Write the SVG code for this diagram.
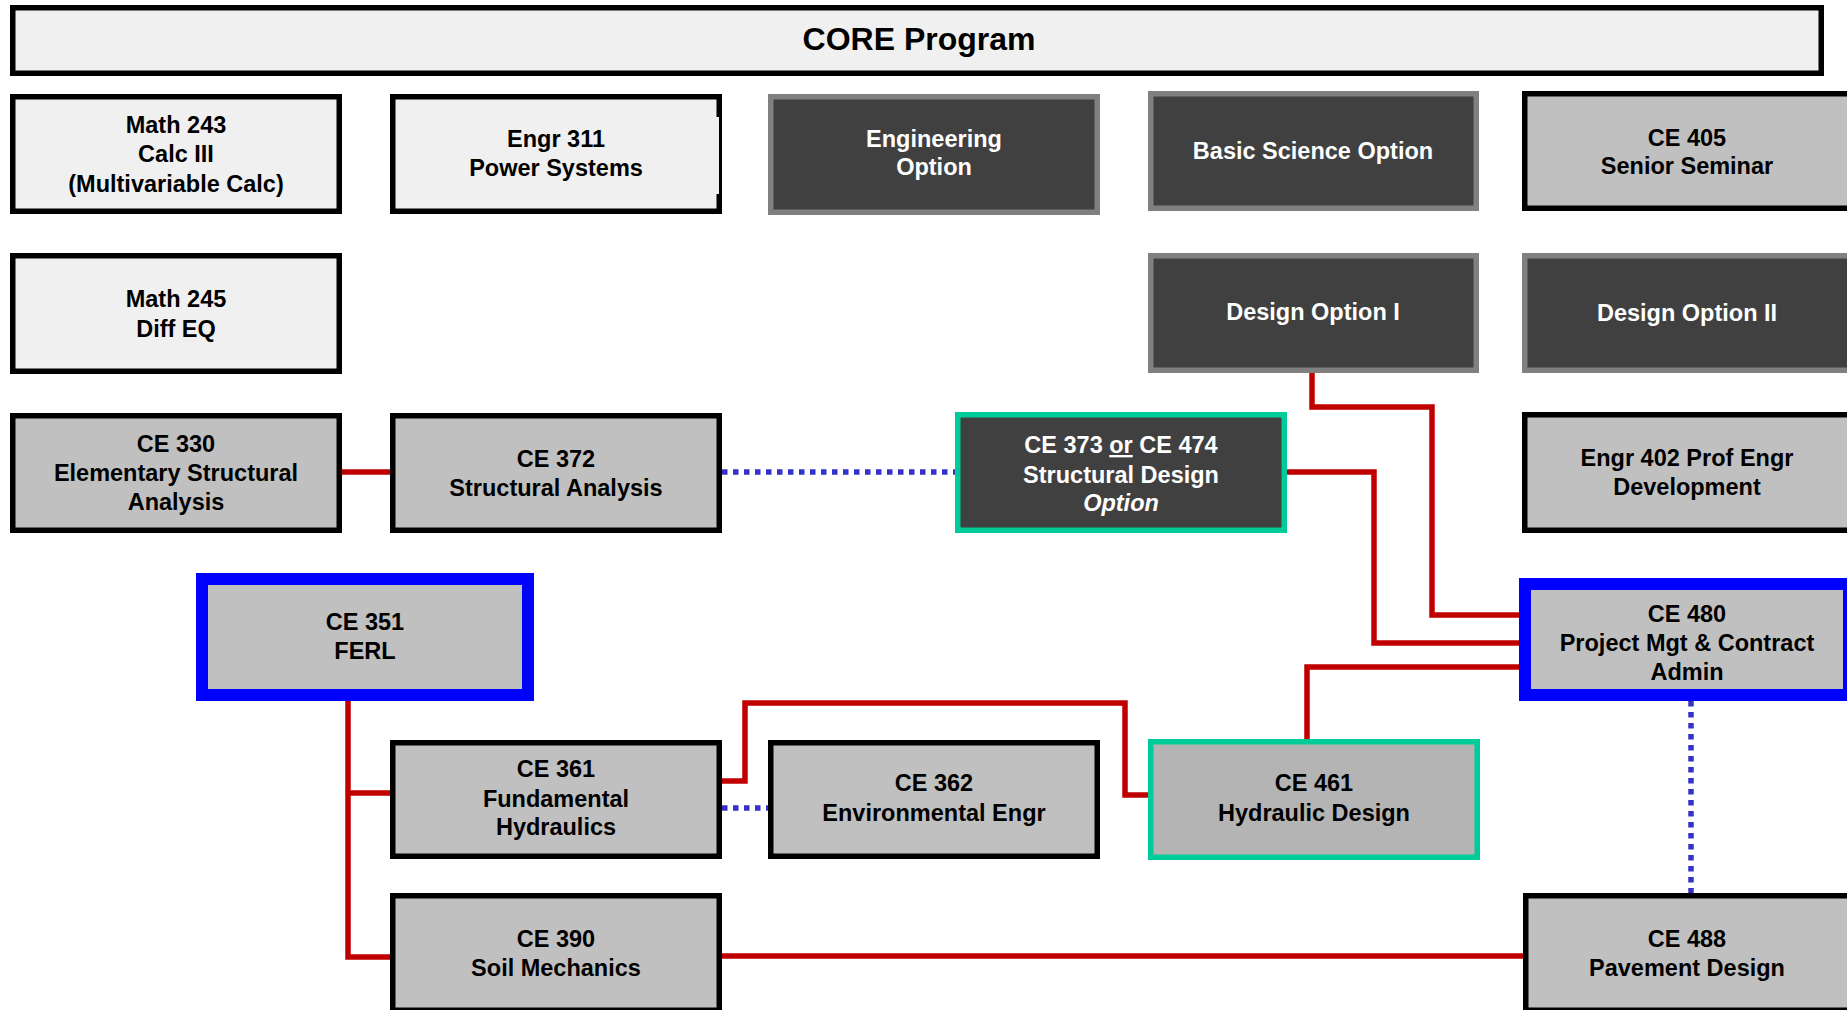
<svg xmlns="http://www.w3.org/2000/svg" width="1847" height="1010" viewBox="0 0 1847 1010">
<style>
text{font-family:"Liberation Sans",Arial,sans-serif;font-weight:bold;font-size:23.5px;text-anchor:middle}
.light{fill:#f0f0f0;stroke:#000;stroke-width:5.5}
.med{fill:#c0c0c0;stroke:#000;stroke-width:5.5}
.dark{fill:#404040;stroke:#808080;stroke-width:5.5}
.teal{stroke:#00cc99;stroke-width:5.5}
.blue{fill:#c0c0c0;stroke:#0000ff;stroke-width:12}
.wt{fill:#fff}
.bt{fill:#000}
.red{fill:none;stroke:#c00000;stroke-width:5.5}
.dot{fill:none;stroke:#3333cc;stroke-width:5.5;stroke-dasharray:5.5 5.5}
</style>
<rect width="1847" height="1010" fill="#fff"/>
<g id="connectors">
<path class="red" d="M342 472H390"/>
<path class="red" d="M1312 373V407H1432V615H1519"/>
<path class="red" d="M1287 472H1374V643H1519"/>
<path class="red" d="M1307 739V667H1519"/>
<path class="red" d="M348 701V957H390M348 793H390"/>
<path class="red" d="M722 781H745V703H1125V795H1148"/>
<path class="red" d="M722 956H1523"/>
<path class="dot" d="M722 472H955"/>
<path class="dot" d="M722 808H768"/>
<path class="dot" d="M1691 701V893"/>
</g>
<g id="core"><rect class="light" x="12.75" y="7.75" width="1808.5" height="65.5"/><text x="919" y="50" style="font-size:32px" class="bt">CORE Program</text></g>
<g id="math243"><rect class="light" x="12.75" y="96.75" width="326.5" height="114.5"/><text class="bt" x="176" y="133">Math 243</text><text class="bt" x="176" y="162">Calc III</text><text class="bt" x="176" y="192">(Multivariable Calc)</text></g>
<g id="engr311"><rect class="light" x="392.75" y="96.75" width="326.5" height="114.5"/><rect x="716" y="117" width="3" height="77" fill="#f0f0f0"/><text class="bt" x="556" y="147">Engr 311</text><text class="bt" x="556" y="176">Power Systems</text></g>
<g id="engopt"><rect class="dark" x="770.75" y="96.75" width="326.5" height="115.5"/><text class="wt" x="934" y="147">Engineering</text><text class="wt" x="934" y="175">Option</text></g>
<g id="basicsci"><rect class="dark" x="1150.75" y="93.75" width="325.5" height="114.5"/><text class="wt" x="1313" y="159">Basic Science Option</text></g>
<g id="ce405"><rect class="med" x="1524.75" y="93.75" width="325.5" height="114.5"/><text class="bt" x="1687" y="146">CE 405</text><text class="bt" x="1687" y="174">Senior Seminar</text></g>
<g id="math245"><rect class="light" x="12.75" y="255.75" width="326.5" height="115.5"/><text class="bt" x="176" y="307">Math 245</text><text class="bt" x="176" y="337">Diff EQ</text></g>
<g id="designopt1"><rect class="dark" x="1150.75" y="255.75" width="325.5" height="114.5"/><text class="wt" x="1313" y="320">Design Option I</text></g>
<g id="designopt2"><rect class="dark" x="1524.75" y="255.75" width="325.5" height="114.5"/><text class="wt" x="1687" y="321">Design Option II</text></g>
<g id="ce330"><rect class="med" x="12.75" y="415.75" width="326.5" height="114.5"/><text class="bt" x="176" y="452">CE 330</text><text class="bt" x="176" y="481">Elementary Structural</text><text class="bt" x="176" y="510">Analysis</text></g>
<g id="ce372"><rect class="med" x="392.75" y="415.75" width="326.5" height="114.5"/><text class="bt" x="556" y="467">CE 372</text><text class="bt" x="556" y="496">Structural Analysis</text></g>
<g id="ce373"><rect class="dark teal" x="957.75" y="414.75" width="326.5" height="115.5"/><text class="wt" x="1121" y="453">CE 373 <tspan text-decoration="underline">or</tspan> CE 474</text><text class="wt" x="1121" y="483">Structural Design</text><text class="wt" x="1121" y="511" font-style="italic">Option</text></g>
<g id="engr402"><rect class="med" x="1524.75" y="414.75" width="325.5" height="115.5"/><text class="bt" x="1687" y="466">Engr 402 Prof Engr</text><text class="bt" x="1687" y="495">Development</text></g>
<g id="ce351"><rect class="blue" x="202" y="579" width="326" height="116"/><text class="bt" x="365" y="630">CE 351</text><text class="bt" x="365" y="659">FERL</text></g>
<g id="ce480"><rect class="blue" x="1525" y="584" width="324" height="111"/><text class="bt" x="1687" y="622">CE 480</text><text class="bt" x="1687" y="651">Project Mgt &amp; Contract</text><text class="bt" x="1687" y="680">Admin</text></g>
<g id="ce361"><rect class="med" x="392.75" y="742.75" width="326.5" height="113.5"/><text class="bt" x="556" y="777">CE 361</text><text class="bt" x="556" y="807">Fundamental</text><text class="bt" x="556" y="835">Hydraulics</text></g>
<g id="ce362"><rect class="med" x="770.75" y="742.75" width="326.5" height="113.5"/><text class="bt" x="934" y="791">CE 362</text><text class="bt" x="934" y="821">Environmental Engr</text></g>
<g id="ce461"><rect class="teal" fill="#b4b4b4" x="1150.75" y="741.75" width="326.5" height="115.5"/><text class="bt" x="1314" y="791">CE 461</text><text class="bt" x="1314" y="821">Hydraulic Design</text></g>
<g id="ce390"><rect class="med" x="392.75" y="895.75" width="326.5" height="114.5"/><text class="bt" x="556" y="947">CE 390</text><text class="bt" x="556" y="976">Soil Mechanics</text></g>
<g id="ce488"><rect class="med" x="1525.75" y="895.75" width="324.5" height="114.5"/><text class="bt" x="1687" y="947">CE 488</text><text class="bt" x="1687" y="976">Pavement Design</text></g>
</svg>
